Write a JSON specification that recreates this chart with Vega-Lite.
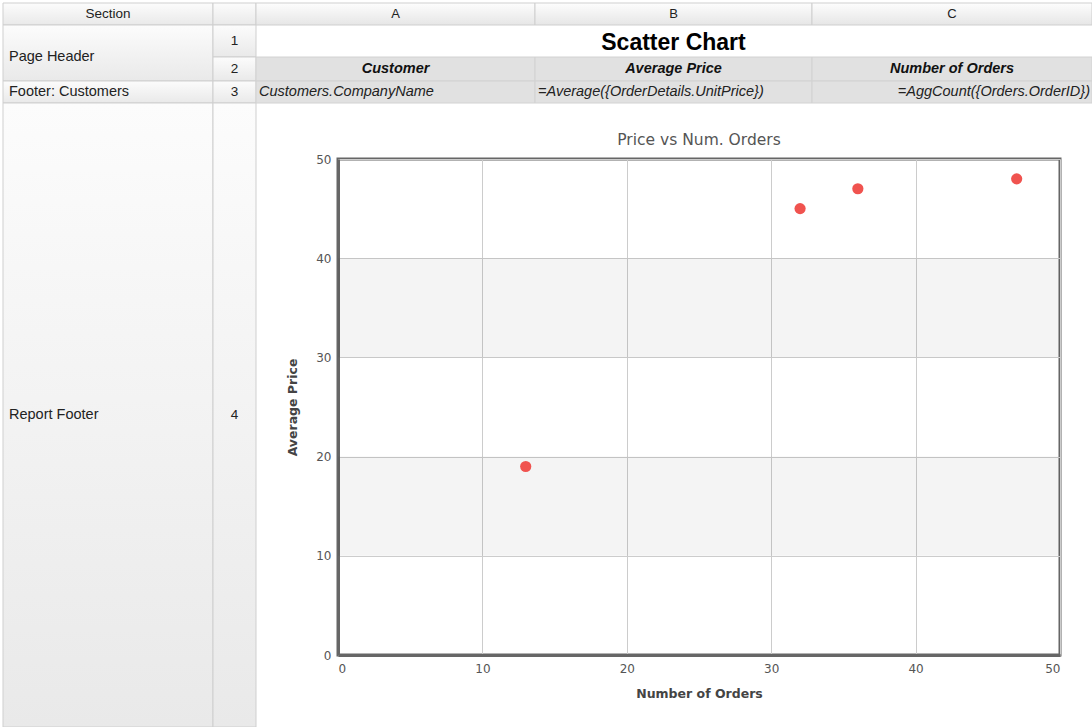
{
  "$schema": "https://vega.github.io/schema/vega-lite/v6.json",
  "padding": 0,
  "background": "white",
  "bounds": "flush",
  "spacing": 82,
  "config": {"view": {"stroke": null}, "font": "Liberation Sans"},
  "datasets": {
    "sheetLeft": [
      {"label": "Section", "c0": 0, "c1": 1, "r0": 0, "r1": 1},
      {"label": "", "c0": 1, "c1": 2, "r0": 0, "r1": 1},
      {"label": "Page Header", "c0": 0, "c1": 1, "r0": 1, "r1": 3},
      {"label": "1", "c0": 1, "c1": 2, "r0": 1, "r1": 2},
      {"label": "2", "c0": 1, "c1": 2, "r0": 2, "r1": 3},
      {"label": "Footer: Customers", "c0": 0, "c1": 1, "r0": 3, "r1": 4},
      {"label": "3", "c0": 1, "c1": 2, "r0": 3, "r1": 4},
      {"label": "Report Footer", "c0": 0, "c1": 1, "r0": 4, "r1": 5},
      {"label": "4", "c0": 1, "c1": 2, "r0": 4, "r1": 5}
    ],
    "sheetTop": [
      {"label": "A", "c0": 2, "c1": 3, "r0": 0, "r1": 1},
      {"label": "B", "c0": 3, "c1": 4, "r0": 0, "r1": 1},
      {"label": "C", "c0": 4, "c1": 5, "r0": 0, "r1": 1},
      {"label": "Scatter Chart", "c0": 2, "c1": 5, "r0": 1, "r1": 2},
      {"label": "Customer", "c0": 2, "c1": 3, "r0": 2, "r1": 3},
      {"label": "Average Price", "c0": 3, "c1": 4, "r0": 2, "r1": 3},
      {"label": "Number of Orders", "c0": 4, "c1": 5, "r0": 2, "r1": 3},
      {"label": "Customers.CompanyName", "c0": 2, "c1": 3, "r0": 3, "r1": 4},
      {"label": "=Average({OrderDetails.UnitPrice})", "c0": 3, "c1": 4, "r0": 3, "r1": 4},
      {"label": "=AggCount({Orders.OrderID})", "c0": 4, "c1": 5, "r0": 3, "r1": 4}
    ],
    "bands": [
      {"lo": 10, "hi": 20},
      {"lo": 30, "hi": 40}
    ],
    "orders": [
      {"orders": 13, "avgPrice": 19},
      {"orders": 32, "avgPrice": 45},
      {"orders": 36, "avgPrice": 47},
      {"orders": 47, "avgPrice": 48}
    ]
  },
  "hconcat": [
    {
      "width": 256,
      "height": 727,
      "data": {"name": "sheetLeft"},
      "transform": [
        {"calculate": "(datum.c0 + datum.c1) / 2", "as": "xm"},
        {"calculate": "(datum.r0 + datum.r1) / 2", "as": "ym"}
      ],
      "layer": [
        {
          "mark": {
            "type": "rect",
            "stroke": "#cfcfcf",
            "strokeWidth": 1,
            "fill": {"gradient": "linear", "x1": 0, "y1": 0, "x2": 0, "y2": 1,
              "stops": [{"offset": 0, "color": "#fcfcfc"}, {"offset": 1, "color": "#e9e9e9"}]}
          },
          "encoding": {
            "x": {"field": "c0", "type": "quantitative", "axis": null, "scale": {"domain": [0, 1, 2], "range": [3, 213, 256], "nice": false, "zero": false}},
            "x2": {"field": "c1"},
            "y": {"field": "r0", "type": "quantitative", "axis": null, "scale": {"domain": [0, 1, 2, 3, 4, 5], "range": [3, 25, 57, 81, 103, 727], "nice": false, "zero": false}},
            "y2": {"field": "r1"}
          }
        },
        {
          "transform": [{"filter": "datum.r0 == 0 || datum.c0 == 1"}],
          "mark": {"type": "text", "font": "Liberation Sans", "fontSize": 13.5, "color": "#222222", "align": "center", "baseline": "middle"},
          "encoding": {
            "x": {"field": "xm", "type": "quantitative", "axis": null, "scale": {"domain": [0, 1, 2], "range": [3, 213, 256], "nice": false, "zero": false}},
            "y": {"field": "ym", "type": "quantitative", "axis": null, "scale": {"domain": [0, 1, 2, 3, 4, 5], "range": [3, 25, 57, 81, 103, 727], "nice": false, "zero": false}},
            "text": {"field": "label"}
          }
        },
        {
          "transform": [{"filter": "datum.r0 > 0 && datum.c0 == 0"}],
          "mark": {"type": "text", "font": "Liberation Sans", "fontSize": 14.5, "color": "#222222", "align": "left", "baseline": "middle", "dx": 6},
          "encoding": {
            "x": {"field": "c0", "type": "quantitative", "axis": null, "scale": {"domain": [0, 1, 2], "range": [3, 213, 256], "nice": false, "zero": false}},
            "y": {"field": "ym", "type": "quantitative", "axis": null, "scale": {"domain": [0, 1, 2, 3, 4, 5], "range": [3, 25, 57, 81, 103, 727], "nice": false, "zero": false}},
            "text": {"field": "label"}
          }
        }
      ]
    },
    {
      "spacing": 56,
      "bounds": "flush",
      "vconcat": [
        {
          "width": 754,
          "height": 103,
          "data": {"name": "sheetTop"},
          "transform": [
            {"calculate": "(datum.c0 + datum.c1) / 2", "as": "xm"},
            {"calculate": "(datum.r0 + datum.r1) / 2", "as": "ym"}
          ],
          "layer": [
            {
              "transform": [{"filter": "datum.r0 == 0"}],
              "mark": {
                "type": "rect",
                "stroke": "#cfcfcf",
                "strokeWidth": 1,
                "fill": {"gradient": "linear", "x1": 0, "y1": 0, "x2": 0, "y2": 1,
                  "stops": [{"offset": 0, "color": "#fdfdfd"}, {"offset": 1, "color": "#e6e6e6"}]}
              },
              "encoding": {
                "x": {"field": "c0", "type": "quantitative", "axis": null, "scale": {"domain": [2, 3, 4, 5], "range": [-82, 197, 474, 754], "nice": false, "zero": false}},
                "x2": {"field": "c1"},
                "y": {"field": "r0", "type": "quantitative", "axis": null, "scale": {"domain": [0, 1, 2, 3, 4], "range": [3, 25, 57, 81, 103], "nice": false, "zero": false}},
                "y2": {"field": "r1"}
              }
            },
            {
              "transform": [{"filter": "datum.r0 >= 2"}],
              "mark": {"type": "rect", "stroke": "#d2d2d2", "strokeWidth": 1, "fill": "#e1e1e1"},
              "encoding": {
                "x": {"field": "c0", "type": "quantitative", "axis": null, "scale": {"domain": [2, 3, 4, 5], "range": [-82, 197, 474, 754], "nice": false, "zero": false}},
                "x2": {"field": "c1"},
                "y": {"field": "r0", "type": "quantitative", "axis": null, "scale": {"domain": [0, 1, 2, 3, 4], "range": [3, 25, 57, 81, 103], "nice": false, "zero": false}},
                "y2": {"field": "r1"}
              }
            },
            {
              "transform": [{"filter": "datum.r0 == 0"}],
              "mark": {"type": "text", "font": "Liberation Sans", "fontSize": 13, "color": "#222222", "align": "center", "baseline": "middle"},
              "encoding": {
                "x": {"field": "xm", "type": "quantitative", "axis": null, "scale": {"domain": [2, 3, 4, 5], "range": [-82, 197, 474, 754], "nice": false, "zero": false}},
                "y": {"field": "ym", "type": "quantitative", "axis": null, "scale": {"domain": [0, 1, 2, 3, 4], "range": [3, 25, 57, 81, 103], "nice": false, "zero": false}},
                "text": {"field": "label"}
              }
            },
            {
              "transform": [{"filter": "datum.r0 == 1"}],
              "mark": {"type": "text", "font": "Liberation Sans", "fontSize": 23, "fontWeight": "bold", "color": "#000000", "align": "center", "baseline": "middle", "dy": 2},
              "encoding": {
                "x": {"field": "xm", "type": "quantitative", "axis": null, "scale": {"domain": [2, 3, 4, 5], "range": [-82, 197, 474, 754], "nice": false, "zero": false}},
                "y": {"field": "ym", "type": "quantitative", "axis": null, "scale": {"domain": [0, 1, 2, 3, 4], "range": [3, 25, 57, 81, 103], "nice": false, "zero": false}},
                "text": {"field": "label"}
              }
            },
            {
              "transform": [{"filter": "datum.r0 == 2"}],
              "mark": {"type": "text", "font": "Liberation Sans", "fontSize": 14.5, "fontWeight": "bold", "fontStyle": "italic", "color": "#111111", "align": "center", "baseline": "middle"},
              "encoding": {
                "x": {"field": "xm", "type": "quantitative", "axis": null, "scale": {"domain": [2, 3, 4, 5], "range": [-82, 197, 474, 754], "nice": false, "zero": false}},
                "y": {"field": "ym", "type": "quantitative", "axis": null, "scale": {"domain": [0, 1, 2, 3, 4], "range": [3, 25, 57, 81, 103], "nice": false, "zero": false}},
                "text": {"field": "label"}
              }
            },
            {
              "transform": [{"filter": "datum.r0 == 3 && datum.c0 < 4"}],
              "mark": {"type": "text", "font": "Liberation Sans", "fontSize": 14.5, "fontStyle": "italic", "color": "#222222", "align": "left", "baseline": "middle", "dx": 3},
              "encoding": {
                "x": {"field": "c0", "type": "quantitative", "axis": null, "scale": {"domain": [2, 3, 4, 5], "range": [-82, 197, 474, 754], "nice": false, "zero": false}},
                "y": {"field": "ym", "type": "quantitative", "axis": null, "scale": {"domain": [0, 1, 2, 3, 4], "range": [3, 25, 57, 81, 103], "nice": false, "zero": false}},
                "text": {"field": "label"}
              }
            },
            {
              "transform": [{"filter": "datum.r0 == 3 && datum.c0 == 4"}],
              "mark": {"type": "text", "font": "Liberation Sans", "fontSize": 14.5, "fontStyle": "italic", "color": "#222222", "align": "right", "baseline": "middle", "dx": -2},
              "encoding": {
                "x": {"field": "c1", "type": "quantitative", "axis": null, "scale": {"domain": [2, 3, 4, 5], "range": [-82, 197, 474, 754], "nice": false, "zero": false}},
                "y": {"field": "ym", "type": "quantitative", "axis": null, "scale": {"domain": [0, 1, 2, 3, 4], "range": [3, 25, 57, 81, 103], "nice": false, "zero": false}},
                "text": {"field": "label"}
              }
            }
          ]
        },
        {
          "width": 722,
          "height": 496,
          "view": {"stroke": "#666666", "strokeWidth": 3},
          "title": {"text": "Price vs Num. Orders", "font": "DejaVu Sans", "fontSize": 15.5, "fontWeight": "normal", "color": "#555555", "offset": 5, "anchor": "middle"},
          "layer": [
            {
              "data": {"name": "bands"},
              "mark": {"type": "rect", "fill": "#000000", "fillOpacity": 0.043},
              "encoding": {
                "x": {"value": 0},
                "x2": {"value": "width"},
                "y": {"field": "lo", "type": "quantitative", "title": "Average Price", "scale": {"domain": [0, 50], "nice": false}},
                "y2": {"field": "hi"}
              }
            },
            {
              "data": {"name": "orders"},
              "mark": {"type": "circle", "color": "#f0534f", "opacity": 1, "size": 125},
              "encoding": {
                "x": {
                  "field": "orders", "type": "quantitative", "title": "Number of Orders",
                  "scale": {"domain": [0, 50], "nice": false},
                  "axis": {"values": [0, 10, 20, 30, 40, 50], "grid": true, "gridColor": "#cccccc", "ticks": false, "domain": true, "domainColor": "#666666", "domainWidth": 3, "labelFont": "DejaVu Sans", "labelFontSize": 12, "labelColor": "#555555", "labelPadding": 8, "titleFont": "DejaVu Sans", "titleFontSize": 12.5, "titleFontWeight": "bold", "titleColor": "#444444", "titlePadding": 13}
                },
                "y": {
                  "field": "avgPrice", "type": "quantitative", "title": "Average Price",
                  "scale": {"domain": [0, 50], "nice": false},
                  "axis": {"values": [0, 10, 20, 30, 40, 50], "grid": true, "gridColor": "#cccccc", "ticks": false, "domain": true, "domainColor": "#666666", "domainWidth": 3, "labelFont": "DejaVu Sans", "labelFontSize": 12, "labelColor": "#555555", "labelPadding": 7, "titleFont": "DejaVu Sans", "titleFontSize": 12.5, "titleFontWeight": "bold", "titleColor": "#444444", "titlePadding": 16}
                }
              }
            }
          ]
        }
      ]
    }
  ]
}
